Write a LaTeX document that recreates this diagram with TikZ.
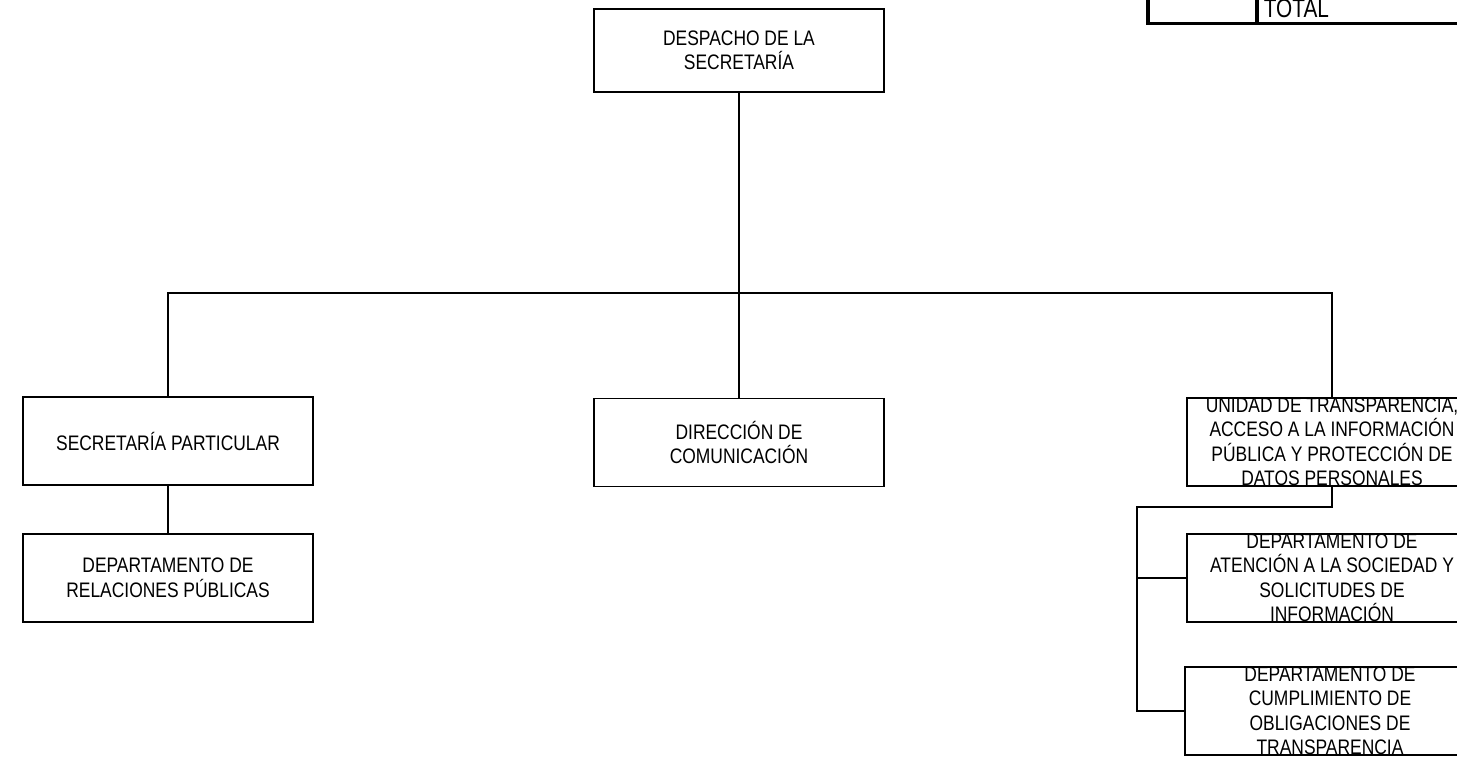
\documentclass[tikz,border=0pt]{standalone}
\usepackage{fontspec}
\newfontfamily\orgfont{Liberation Sans}[FakeStretch=0.83]
\newfontfamily\totalfont{Liberation Sans}[FakeStretch=0.8]

\begin{document}
\begin{tikzpicture}[x=1pt, y=-1pt, line width=1.8pt,
  org/.style={draw, fill=white, minimum width=290, minimum height=88, inner sep=0pt, outer sep=0pt},
  orgtxt/.style={align=center, inner sep=0pt, font=\orgfont\fontsize{21}{24.5}\selectfont}]
\useasboundingbox (0,0) rectangle (1457,761);

\node[org, minimum height=83] (despacho) at (739,50.5) {};
\node[org] (secpart) at (168,441) {};
\node[org] (relpub) at (168,578) {};
\node[org] (direccion) at (739,442.5) {};
\node[org] (unidad) at (1332,442) {};
\node[org] (atencion) at (1332,578) {};
\node[org] (cumpl) at (1330,711) {};

\node[orgtxt] (despachotxt) at (despacho) {DESPACHO DE LA\\SECRETARÍA};
\node[orgtxt] (secparttxt) at (secpart) {SECRETARÍA PARTICULAR};
\node[orgtxt] (relpubtxt) at (relpub) {DEPARTAMENTO DE\\RELACIONES PÚBLICAS};
\node[orgtxt] (direcciontxt) at (direccion) {DIRECCIÓN DE\\COMUNICACIÓN};
\node[orgtxt] (unidadtxt) at (unidad) {UNIDAD DE TRANSPARENCIA,\\ACCESO A LA INFORMACIÓN\\PÚBLICA Y PROTECCIÓN DE\\DATOS PERSONALES};
\node[orgtxt] (atenciontxt) at (atencion) {DEPARTAMENTO DE\\ATENCIÓN A LA SOCIEDAD Y\\SOLICITUDES DE\\INFORMACIÓN};
\node[orgtxt] (cumpltxt) at (cumpl) {DEPARTAMENTO DE\\CUMPLIMIENTO DE\\OBLIGACIONES DE\\TRANSPARENCIA};

\coordinate (bus) at (739,293);
\coordinate (rbus) at (1137,507);
\draw (despacho) -- (direccion);
\draw (secpart.north) |- (bus) -| (unidad.north);
\draw (secpart) -- (relpub);
\draw (unidad.south) |- (rbus) |- (cumpl.west);
\draw (atencion.west) -- (atencion.west -| rbus);

% total table, top right
\draw[line width=3.5pt] (1148,-10) |- (1470,23.5);
\draw[line width=3.5pt] (1257,-10) -- (1257,23.5);
\node[anchor=base west, inner sep=0pt, font=\totalfont\fontsize{26}{30}\selectfont] (total) at (1263,17) {TOTAL};
\end{tikzpicture}
\end{document}
